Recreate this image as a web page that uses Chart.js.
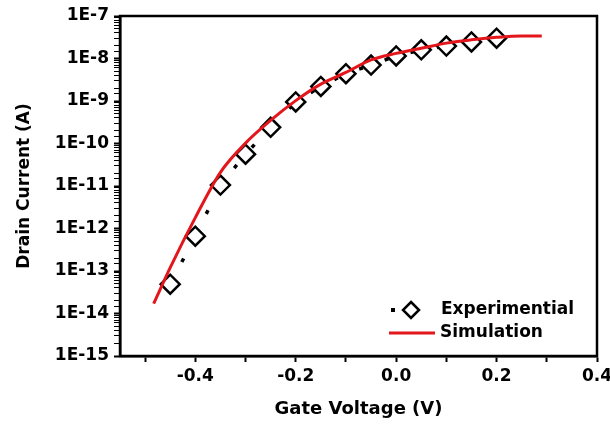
<!DOCTYPE html>
<html>
<head>
<meta charset="utf-8">
<script src="https://cdn.jsdelivr.net/npm/chart.js@4/dist/chart.umd.min.js"></script>
<style>
  html, body { margin: 0; padding: 0; background: #fff; }
  #wrap { width: 610px; height: 424px; }
</style>
</head>
<body>
<div id="wrap"><canvas id="c" width="610" height="424"></canvas></div>
<script>
// ---- data ----
const expX = [-0.45, -0.40, -0.35, -0.30, -0.25, -0.20, -0.15, -0.10, -0.05, 0.00, 0.05, 0.10, 0.15, 0.20];
const expY = [4.9e-14, 6.6e-13, 1.05e-11, 5.6e-11, 2.4e-10, 9.5e-10, 2.2e-9, 4.4e-9, 7.0e-9, 1.15e-8, 1.6e-8, 1.96e-8, 2.45e-8, 3.0e-8];

const simX = [-0.483, -0.45, -0.40, -0.35, -0.30, -0.25, -0.20, -0.15, -0.10, -0.05, 0.00, 0.05, 0.10, 0.15, 0.20, 0.25, 0.29];
const simY = [1.7e-14, 1.2e-13, 1.8e-12, 2.1e-11, 1.02e-10, 3.5e-10, 1.02e-9, 2.5e-9, 4.7e-9, 9.3e-9, 1.32e-8, 1.74e-8, 2.3e-8, 2.75e-8, 3.16e-8, 3.4e-8, 3.4e-8];

const xTickValues = [-0.4, -0.2, 0.0, 0.2, 0.4];
const xTickLabels = ['-0.4', '-0.2', '0.0', '0.2', '0.4'];
const yTickExponents = [-15, -14, -13, -12, -11, -10, -9, -8, -7];
const yTickLabels = ['1E-15', '1E-14', '1E-13', '1E-12', '1E-11', '1E-10', '1E-9', '1E-8', '1E-7'];

const seriesNames = ['Experimential', 'Simulation'];
const xTitle = 'Gate Voltage (V)';
const yTitle = 'Drain Current (A)';

// ---- chart ----
const FONT = 'DejaVu Sans';
Chart.defaults.font.family = FONT;
Chart.defaults.font.weight = 'bold';
Chart.defaults.color = '#000';

function isDecade(v) {
  const l = Math.log10(v);
  return Math.abs(l - Math.round(l)) < 1e-6;
}

const framePlugin = {
  id: 'frame',
  beforeDatasetsDraw(chart) {
    const { ctx, chartArea: a } = chart;
    ctx.save();
    ctx.strokeStyle = '#000';
    ctx.lineWidth = 2.5;
    ctx.strokeRect(a.left, a.top, a.right - a.left, a.bottom - a.top);
    ctx.restore();
  }
};

const legendPlugin = {
  id: 'customLegend',
  afterDraw(chart) {
    const { ctx, chartArea: a } = chart;
    const tx = a.right - 156;
    const y1 = a.bottom - 46;
    const y2 = a.bottom - 23;
    ctx.save();
    // Experimental symbol: dot + diamond
    ctx.fillStyle = '#000';
    ctx.fillRect(tx - 50, y1 - 2, 4, 4);
    ctx.beginPath();
    const cx = tx - 30, r = 8;
    ctx.moveTo(cx, y1 - r); ctx.lineTo(cx + r, y1); ctx.lineTo(cx, y1 + r); ctx.lineTo(cx - r, y1); ctx.closePath();
    ctx.fillStyle = '#fff'; ctx.fill();
    ctx.lineWidth = 2.5; ctx.strokeStyle = '#000'; ctx.stroke();
    // Simulation symbol
    ctx.beginPath();
    ctx.moveTo(tx - 52, y2); ctx.lineTo(tx - 6, y2);
    ctx.strokeStyle = '#e3161c'; ctx.lineWidth = 3; ctx.stroke();
    // texts
    ctx.fillStyle = '#000';
    ctx.font = 'bold 17px "' + FONT + '"';
    ctx.textBaseline = 'middle';
    ctx.textAlign = 'left';
    ctx.fillText(seriesNames[0], tx, y1);
    ctx.fillText(seriesNames[1], tx - 1, y2);
    ctx.restore();
  }
};

new Chart(document.getElementById('c'), {
  type: 'line',
  data: {
    datasets: [
      {
        label: seriesNames[1],
        data: simX.map((x, i) => ({ x, y: simY[i] })),
        borderColor: '#e3161c',
        borderWidth: 3,
        pointRadius: 0,
        cubicInterpolationMode: 'monotone',
        fill: false
      },
      {
        label: seriesNames[0],
        data: expX.map((x, i) => ({ x, y: expY[i] })),
        borderColor: '#000',
        borderWidth: 3.5,
        borderDash: [4, 23],
        borderDashOffset: -25,
        pointStyle: 'rectRot',
        pointRadius: 9.5,
        pointBorderWidth: 2.5,
        pointBorderColor: '#000',
        pointBackgroundColor: '#fff',
        fill: false
      }
    ]
  },
  options: {
    responsive: false,
    animation: false,
    events: [],
    layout: { padding: { left: 12, right: 13, top: 16, bottom: 4 } },
    plugins: {
      legend: { display: false },
      tooltip: { enabled: false }
    },
    scales: {
      x: {
        type: 'linear',
        min: -0.55,
        max: 0.4,
        afterFit(scale) { scale.height = 424 - 4 - 356; scale.paddingRight = 0; scale.paddingLeft = 0; },
        border: { display: true, color: '#000', width: 2.5 },
        grid: {
          display: true, drawOnChartArea: false, drawTicks: true,
          tickLength: 6, color: '#000', tickWidth: 2
        },
        ticks: {
          stepSize: 0.1,
          includeBounds: false,
          autoSkip: false,
          maxRotation: 0,
          padding: 4,
          font: { size: 17, weight: 'bold' },
          color: '#000',
          callback(v) {
            const i = xTickValues.findIndex(t => Math.abs(t - v) < 1e-6);
            return i >= 0 ? xTickLabels[i] : '';
          }
        },
        title: {
          display: true, text: xTitle, color: '#000',
          font: { size: 18, weight: 'bold' }, padding: { top: 0, bottom: 0 }
        }
      },
      y: {
        type: 'logarithmic',
        min: 1e-15,
        max: 1e-7,
        afterFit(scale) { scale.width = 120 - 12; scale.paddingTop = 0; scale.paddingBottom = 0; },
        border: { display: true, color: '#000', width: 2.5 },
        grid: {
          display: true, drawOnChartArea: false, drawTicks: true,
          tickLength: 6, color: '#000',
          tickWidth: (ctx) => (ctx.tick && isDecade(ctx.tick.value)) ? 2 : 1
        },
        ticks: {
          autoSkip: false,
          padding: 5,
          font: { size: 17, weight: 'bold' },
          color: '#000',
          callback(v) {
            if (!isDecade(v)) return '';
            const e = Math.round(Math.log10(v));
            const i = yTickExponents.indexOf(e);
            return i >= 0 ? yTickLabels[i] : '';
          }
        },
        title: {
          display: true, text: yTitle, color: '#000',
          font: { size: 17, weight: 'bold' }, padding: { top: 2, bottom: 0 }
        }
      }
    }
  },
  plugins: [framePlugin, legendPlugin]
});
</script>
</body>
</html>
